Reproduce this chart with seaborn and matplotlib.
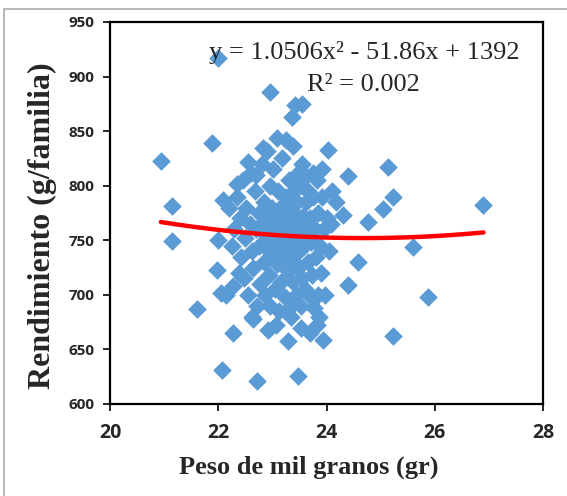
import numpy as np
import pandas as pd
import matplotlib
matplotlib.use('Agg')
import matplotlib.pyplot as plt
import seaborn as sns
from matplotlib.patches import Rectangle

# Peso de mil granos (gr)
peso = [
    21.99, 22.96, 23.42, 23.55, 23.36, 20.94, 21.88, 21.14, 21.15, 21.60,
    24.02, 25.13, 24.40, 25.23, 25.04, 24.11, 26.90, 24.30, 24.76, 25.59,
    24.58, 24.39, 25.88, 25.23, 23.47, 22.72, 22.07, 22.27, 22.91, 23.28,
    23.94, 23.82, 21.98, 22.15, 22.63, 23.09, 22.82, 23.39, 22.55, 23.45,
    23.63, 22.34, 22.09, 22.00, 22.05,
    22.25, 22.30, 22.35, 22.40, 22.42, 22.45, 22.48, 22.50, 22.52, 22.55,
    22.58, 22.60, 22.62, 22.65, 22.68, 22.70, 22.72, 22.75, 22.76, 22.78,
    22.80, 22.82, 22.84, 22.85, 22.86, 22.88, 22.90, 22.92, 22.94, 22.95,
    22.96, 22.98, 23.00, 23.00, 23.02, 23.04, 23.05, 23.06, 23.08, 23.10,
    23.10, 23.12, 23.14, 23.15, 23.16, 23.18, 23.20, 23.20, 23.22, 23.24,
    23.25, 23.26, 23.28, 23.30, 23.30, 23.32, 23.34, 23.35, 23.36, 23.38,
    23.40, 23.40, 23.42, 23.44, 23.45, 23.46, 23.48, 23.50, 23.50, 23.52,
    23.54, 23.55, 23.56, 23.58, 23.60, 23.62, 23.63, 23.65, 23.66, 23.68,
    23.70, 23.72, 23.74, 23.75, 23.76, 23.78, 23.80, 23.82, 23.84, 23.85,
    23.88, 23.90, 23.92, 23.95, 23.98, 24.00, 24.05, 24.08, 22.38, 22.20,
    22.28, 22.64, 23.06, 23.52, 23.70, 23.86, 22.90, 23.25, 23.55, 23.75,
    23.92, 22.70, 23.35, 24.18,
]

# Rendimiento (g/familia)
rendimiento = [
    917, 886, 874, 875, 863, 823, 839, 781, 749, 687,
    833, 817, 809, 790, 779, 795, 782, 773, 767, 744,
    730, 709, 698, 662, 626, 621, 631, 665, 668, 658,
    659, 672, 723, 700, 680, 844, 835, 836, 822, 811,
    809, 802, 787, 750, 702,
    745, 760, 790, 770, 735, 805, 715, 752, 780, 700,
    765, 812, 740, 725, 795, 760, 690, 775, 745, 710,
    820, 765, 730, 785, 700, 755, 742, 770, 718, 800,
    690, 760, 735, 780, 815, 750, 705, 770, 728, 795,
    760, 685, 742, 780, 712, 825, 755, 735, 770, 698,
    790, 748, 722, 805, 765, 740, 680, 778, 755, 712,
    795, 730, 768, 700, 750, 785, 725, 760, 740, 690,
    800, 715, 772, 745, 705, 785, 760, 730, 795, 700,
    770, 748, 718, 790, 688, 760, 735, 805, 700, 775,
    745, 720, 790, 760, 700, 770, 740, 765, 720, 780,
    708, 678, 672, 670, 665, 680, 832, 842, 820, 812,
    815, 810, 690, 785,
]

# trendline from the chart (2nd order polynomial)
coefs = [1.0506, -51.86, 1392]
eq_text = 'y = 1.0506x² - 51.86x + 1392'
r2_text = 'R² = 0.002'

df = pd.DataFrame({'peso': peso, 'rend': rendimiento})

sns.set_style('white')
plt.rcParams['font.family'] = ['Open Sans', 'DejaVu Sans']

fig = plt.figure(figsize=(5.67, 4.96), dpi=100)
ax = fig.add_axes([110 / 567, 1 - 404 / 496, 433 / 567, 382 / 496])

sns.scatterplot(data=df, x='peso', y='rend', marker='D', s=90,
                color='#5B9BD5', linewidth=0, ax=ax, zorder=2)

xs = np.linspace(df['peso'].min(), df['peso'].max(), 200)
trend = pd.DataFrame({'x': xs, 'y': np.polyval(coefs, xs)})
sns.lineplot(data=trend, x='x', y='y', color='#FF0000', linewidth=3.2,
             ax=ax, zorder=3)

ax.set_xlim(20, 28)
ax.set_ylim(600, 950)
ax.set_xticks(range(20, 29, 2))
ax.set_yticks(range(600, 951, 50))

for s in ax.spines.values():
    s.set_color('black')
    s.set_linewidth(1.6)
ax.tick_params(axis='both', direction='out', length=5, width=1.2,
               color='black', left=True, bottom=True)
ax.tick_params(axis='y', labelsize=11, pad=6)
ax.tick_params(axis='x', labelsize=14, pad=9)
for lab in ax.get_xticklabels() + ax.get_yticklabels():
    lab.set_fontweight('bold')

ax.set_xlabel('Peso de mil granos (gr)', family='Liberation Serif',
              fontweight='bold', fontsize=19)
ax.set_ylabel('Rendimiento (g/familia)', family='Liberation Serif',
              fontweight='bold', fontsize=23)
ax.xaxis.set_label_coords(0.46, -0.134)
ax.yaxis.set_label_coords(-0.122, 0.466)

ax.text(24.69, 922, eq_text, family='Liberation Serif', fontsize=19,
        ha='center', va='center', zorder=4)
ax.text(24.69, 892, r2_text, family='Liberation Serif', fontsize=19,
        ha='center', va='center', zorder=4)

# light grey chart-area border
fig.patches.append(Rectangle((4 / 567, -0.05), 1.0, 1.05 - 9 / 496,
                             transform=fig.transFigure, fill=False,
                             edgecolor='#ABABAB', linewidth=1.2))

fig.savefig('out.png', dpi=100)
